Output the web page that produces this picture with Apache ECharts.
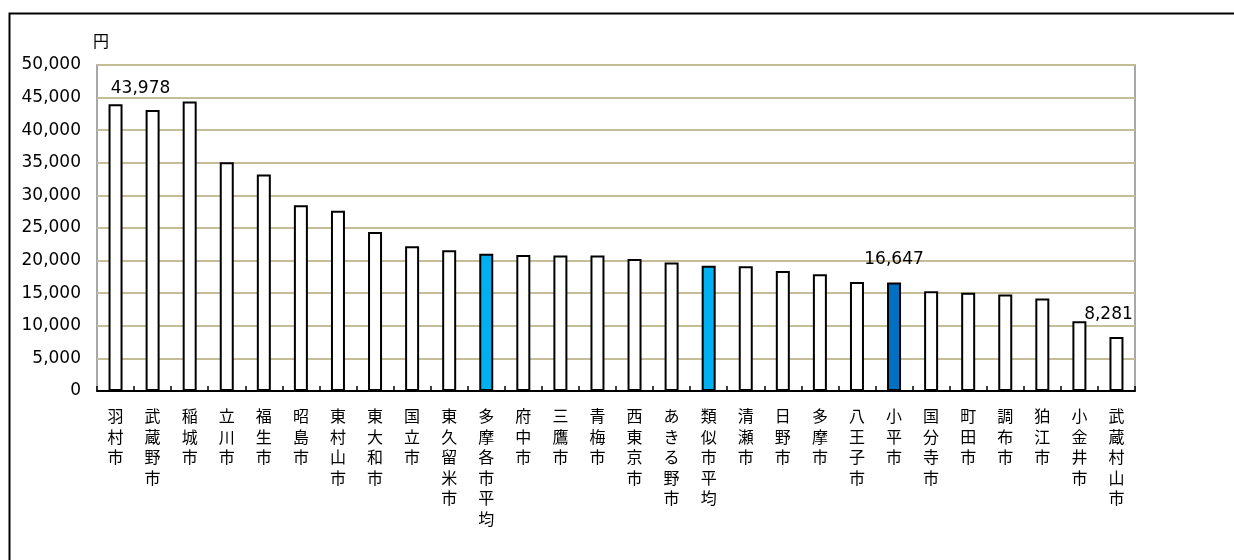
<!DOCTYPE html>
<html>
<head>
<meta charset="utf-8">
<script src="https://cdn.jsdelivr.net/npm/echarts@6/dist/echarts.min.js"></script>
<style>
  html, body { margin: 0; padding: 0; background: #fff; }
  #chart { width: 1234px; height: 560px; }
</style>
</head>
<body>
<div id="chart"></div>
<script>
// 市区町村名
const cities = [
  '羽村市', '武蔵野市', '稲城市', '立川市', '福生市', '昭島市', '東村山市',
  '東大和市', '国立市', '東久留米市', '多摩各市平均', '府中市', '三鷹市', '青梅市',
  '西東京市', 'あきる野市', '類似市平均', '清瀬市', '日野市', '多摩市', '八王子市',
  '小平市', '国分寺市', '町田市', '調布市', '狛江市', '小金井市', '武蔵村山市'
];

// 金額（円）
const values = [
  43978, 43100, 44400, 35100, 33200, 28500, 27650,
  24400, 22200, 21600, 21050, 20850, 20800, 20800,
  20250, 19700, 19200, 19150, 18400, 17900, 16700,
  16647, 15300, 15050, 14800, 14200, 10700, 8281
];

const yTicks = [0, 5000, 10000, 15000, 20000, 25000, 30000, 35000, 40000, 45000, 50000];

// 強調する棒
const averageCities = ['多摩各市平均', '類似市平均'];
const focusCity = '小平市';
const labeledCities = ['羽村市', '小平市', '武蔵村山市'];

const numFont = 'DejaVu Sans';
const jpFont = 'Noto Sans CJK JP';

function barColor(name) {
  if (name === focusCity) return '#0070C0';
  if (averageCities.includes(name)) return '#00B0F0';
  return '#ffffff';
}

// ラベル位置の微調整（Excel 側で手動移動されたもの）
const labelOffsets = { '羽村市': [25, -2], '小平市': [0, -9], '武蔵村山市': [-8, -9] };

const seriesData = cities.map((name, i) => {
  const item = { value: values[i], itemStyle: { color: barColor(name) } };
  if (labeledCities.includes(name)) {
    item.label = {
      show: true,
      position: 'top',
      offset: labelOffsets[name],
      formatter: p => p.value.toLocaleString('en-US'),
      fontFamily: numFont,
      fontSize: 17,
      color: '#000'
    };
  }
  return item;
});

const chart = echarts.init(document.getElementById('chart'));
chart.setOption({
  backgroundColor: '#ffffff',
  animation: false,
  graphic: [{
    type: 'rect',
    left: 7, top: 11,
    shape: { width: 1240, height: 600 },
    style: { fill: 'none', stroke: '#000', lineWidth: 2 },
    silent: true
  }],
  grid: {
    left: 97, right: 99, top: 65, bottom: 169,
    show: true, borderColor: '#8c8c8c', borderWidth: 1.5, backgroundColor: 'transparent'
  },
  xAxis: {
    type: 'category',
    data: cities,
    axisLine: { lineStyle: { color: '#000', width: 2 } },
    axisTick: { show: true, inside: true, length: 5, interval: 0, lineStyle: { color: '#000', width: 1.5 } },
    axisLabel: {
      interval: 0,
      margin: 15,
      verticalAlign: 'top',
      fontFamily: jpFont,
      fontSize: 16,
      lineHeight: 20.5,
      color: '#000',
      formatter: v => v.split('').join('\n')
    }
  },
  yAxis: {
    type: 'value',
    min: yTicks[0],
    max: yTicks[yTicks.length - 1],
    interval: yTicks[1] - yTicks[0],
    name: '円',
    nameLocation: 'end',
    nameGap: 16,
    nameTextStyle: { fontFamily: jpFont, fontSize: 16, color: '#000', align: 'left', padding: [0, 0, 0, -4] },
    axisLine: { show: false },
    axisTick: { show: false },
    axisLabel: {
      margin: 16,
      fontFamily: numFont,
      fontSize: 17,
      color: '#000',
      formatter: v => v.toLocaleString('en-US')
    },
    splitLine: { lineStyle: { color: '#c4bd97', width: 2 } }
  },
  series: [{
    type: 'bar',
    data: seriesData,
    barWidth: 14,
    itemStyle: { borderColor: '#000', borderWidth: 2 }
  }]
});
</script>
</body>
</html>
